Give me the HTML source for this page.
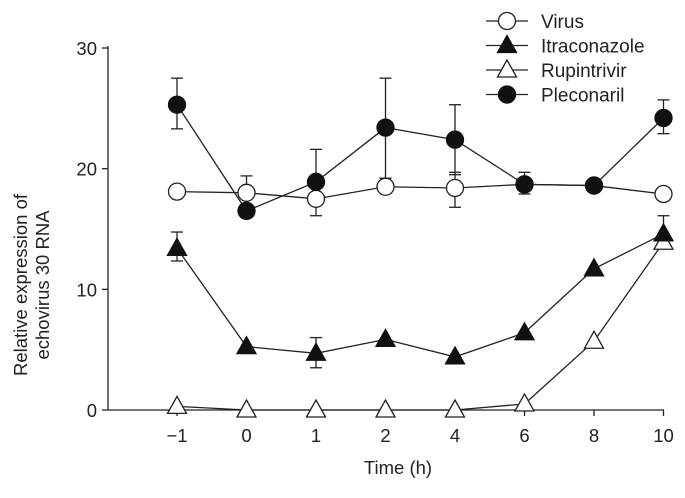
<!DOCTYPE html>
<html><head><meta charset="utf-8"><style>
body{margin:0;background:#fff;width:685px;height:493px;overflow:hidden}
text{font-family:"Liberation Sans",Arial,sans-serif;fill:#222}
</style></head><body>
<svg id="chart" width="685" height="493" xmlns="http://www.w3.org/2000/svg"></svg>
<script>
const categories=["\u22121","0","1","2","4","6","8","10"];
const yTicks=[0,10,20,30];
const virus=[18.1,18.0,17.5,18.5,18.4,18.7,18.6,17.9];
const virusUp=[null,19.4,null,19.2,19.7,null,null,null];
const virusDown=[null,null,16.1,null,16.8,null,null,null];
const itra=[13.4,5.25,4.7,5.85,4.4,6.4,11.7,14.6];
const itraUp=[14.75,null,6.0,null,null,null,null,16.1];
const itraDown=[12.35,null,3.5,null,null,null,null,null];
const rupi=[0.3,0,0,0,0,0.5,5.7,13.9];
const plec=[25.3,16.5,18.9,23.4,22.4,18.7,18.6,24.2];
const plecUp=[27.5,null,21.6,27.5,25.3,19.7,null,25.7];
const plecDown=[23.3,null,null,19.2,19.5,17.9,null,22.9];
const legendLabels=["Virus","Itraconazole","Rupintrivir","Pleconaril"];

const svg=document.getElementById('chart');
const NS="http://www.w3.org/2000/svg";
const x0=108,xEnd=664,y0=410,yTop=48;
function xs(i){return 177+i*69.5;}
function ys(v){return y0-v*(y0-yTop)/30;}
function mk(tag,attrs,parent){const e=document.createElementNS(NS,tag);for(const k in attrs)e.setAttribute(k,attrs[k]);(parent||svg).appendChild(e);return e;}

const axes=mk('g',{stroke:'#222','stroke-width':1.3,fill:'none'});


mk('line',{x1:x0,y1:yTop-2,x2:x0,y2:y0},axes);
mk('line',{x1:x0,y1:y0,x2:xEnd,y2:y0},axes);
yTicks.forEach(t=>{
  mk('line',{x1:x0-6,y1:ys(t),x2:x0,y2:ys(t)},axes);
  const tx=mk('text',{x:x0-11,y:ys(t)+7,'text-anchor':'end','font-size':18.5});
  tx.textContent=t;
  
  
});
categories.forEach((c,i)=>{
  mk('line',{x1:xs(i),y1:y0,x2:xs(i),y2:y0+6},axes);
  const tx=mk('text',{x:xs(i),y:y0+32,'text-anchor':'middle','font-size':18.5});
  tx.textContent=c;
  
  
});
const xt=mk('text',{x:398,y:474,'text-anchor':'middle','font-size':18.5});
xt.textContent='Time (h)';


[['Relative expression of',27],['echovirus 30 RNA',49]].forEach(([s,xx])=>{
  const t=mk('text',{x:0,y:0,'text-anchor':'middle','font-size':18.5,transform:`translate(${xx},285) rotate(-90)`});
  t.textContent=s;
  
  
});

function marker(type,cx,cy,g){
  if(type==='oc')mk('circle',{cx,cy,r:8.5,fill:'#fff',stroke:'#222','stroke-width':1.3},g);
  if(type==='fc')mk('circle',{cx,cy,r:8.5,fill:'#111',stroke:'#111','stroke-width':1.3},g);
  const tri=`${cx},${cy-10} ${cx-9.5},${cy+7} ${cx+9.5},${cy+7}`;
  if(type==='ft')mk('polygon',{points:tri,fill:'#111',stroke:'#111','stroke-width':1.3},g);
  if(type==='ot')mk('polygon',{points:tri,fill:'#fff',stroke:'#222','stroke-width':1.3},g);
}
function series(name,vals,up,down,type){
  const g=mk('g',{});
  
  
  const pts=vals.map((v,i)=>xs(i)+','+ys(v)).join(' ');
  mk('polyline',{points:pts,fill:'none',stroke:'#222','stroke-width':1.3},g);
  vals.forEach((v,i)=>{
    [up&&up[i],down&&down[i]].forEach(e=>{
      if(e==null)return;
      mk('line',{x1:xs(i),y1:ys(v),x2:xs(i),y2:ys(e),stroke:'#222','stroke-width':1.3},g);
      mk('line',{x1:xs(i)-6,y1:ys(e),x2:xs(i)+6,y2:ys(e),stroke:'#222','stroke-width':1.3},g);
    });
  });
  vals.forEach((v,i)=>marker(type,xs(i),ys(v),g));
}
series('rupintrivir',rupi,null,null,'ot');
series('itraconazole',itra,itraUp,itraDown,'ft');
series('virus',virus,virusUp,virusDown,'oc');
series('pleconaril',plec,plecUp,plecDown,'fc');

const types=['oc','ft','ot','fc'];
legendLabels.forEach((l,i)=>{
  const y=21+i*24.5;
  const g=mk('g',{});
  
  
  mk('line',{x1:486,y1:y,x2:528,y2:y,stroke:'#222','stroke-width':1.3},g);
  marker(types[i],507,y,g);
  const t=mk('text',{x:541,y:y+7,'font-size':19},g);
  t.textContent=l;
});
</script>
</body></html>
